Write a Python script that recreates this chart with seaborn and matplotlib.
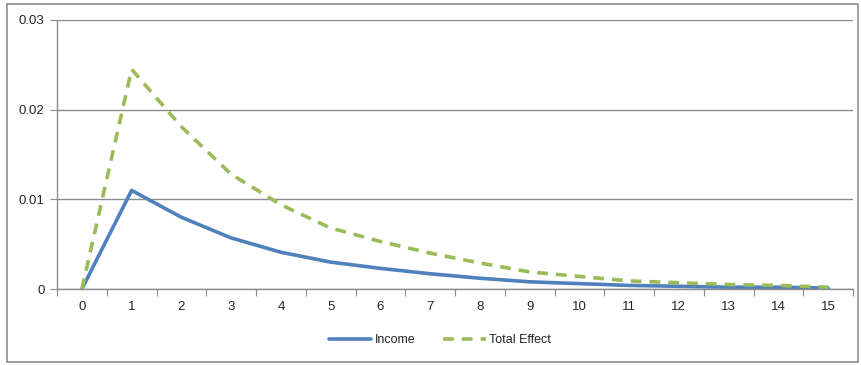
import numpy as np
import pandas as pd
import matplotlib
matplotlib.use('Agg')
import matplotlib.pyplot as plt
import matplotlib.patches as patches
import seaborn as sns

# ── Data ───────────────────────────────────────────────────────────────────────
PERIODS      = list(range(16))
INCOME       = [0, 0.0110, 0.0080, 0.0057, 0.0041, 0.0030, 0.0023, 0.0017,
                0.0012, 0.0008, 0.0006, 0.0004, 0.0003, 0.0002, 0.0002, 0.0001]
TOTAL_EFFECT = [0, 0.0245, 0.0181, 0.0128, 0.0094, 0.0068, 0.0053, 0.0040,
                0.0029, 0.0019, 0.0014, 0.0009, 0.0007, 0.0005, 0.0004, 0.0002]
Y_TICKS      = [0, 0.01, 0.02, 0.03]
Y_LABELS     = ['0', '0.01', '0.02', '0.03']

df = pd.DataFrame({
    'period': PERIODS * 2,
    'value':  INCOME + TOTAL_EFFECT,
    'series': ['Income'] * 16 + ['Total Effect'] * 16,
})

sns.set_style('white')
plt.rcParams['font.family'] = ['Liberation Sans', 'DejaVu Sans']

fig = plt.figure(figsize=(8.61, 3.65), dpi=100)
ax = fig.add_axes([57/861, 1 - 289/365, 796/861, 269/365])

palette = {'Income': '#4F81BD', 'Total Effect': '#9BBB59'}
dashes  = {'Income': '', 'Total Effect': (3, 2.2)}
sns.lineplot(data=df, x='period', y='value', hue='series', style='series',
             palette=palette, dashes=dashes, linewidth=2.6, ax=ax, legend=True)

# axes styling, Excel-like
ax.set_xlim(-0.5, 15.5)
ax.set_ylim(0, 0.03)
ax.set_yticks(Y_TICKS)
ax.set_yticklabels(Y_LABELS)
ax.yaxis.grid(True, color='#8c8c8c', linewidth=1)
ax.set_axisbelow(True)
ax.set_xticks(np.arange(-0.5, 16, 1))
ax.set_xticklabels([])
ax.set_xticks(PERIODS, minor=True)
ax.set_xticklabels([str(p) for p in PERIODS], minor=True)
ax.tick_params(axis='x', which='major', direction='out', length=5, color='#8c8c8c', bottom=True)
ax.tick_params(axis='x', which='minor', length=0, pad=9, labelsize=9.5)
ax.tick_params(axis='y', direction='out', length=5, color='#8c8c8c', left=True, pad=4, labelsize=9.5)
for s in ['top', 'right']:
    ax.spines[s].set_visible(False)
for s in ['left', 'bottom']:
    ax.spines[s].set_color('#8c8c8c')
    ax.spines[s].set_linewidth(1)
ax.set_xlabel(''); ax.set_ylabel('')

leg = ax.legend(loc='center', bbox_to_anchor=(440/861, 1 - 340/365),
                bbox_transform=fig.transFigure, ncol=2, frameon=False,
                fontsize=9, handlelength=3.4, columnspacing=2.2, handletextpad=0.3)

# outer chart border
fig.patches.append(patches.Rectangle((7/861, 3/365), 851/861, 358/365,
                                     transform=fig.transFigure, fill=False,
                                     edgecolor='#8c8c8c', linewidth=1.2))

plt.savefig('out.png', dpi=100)
